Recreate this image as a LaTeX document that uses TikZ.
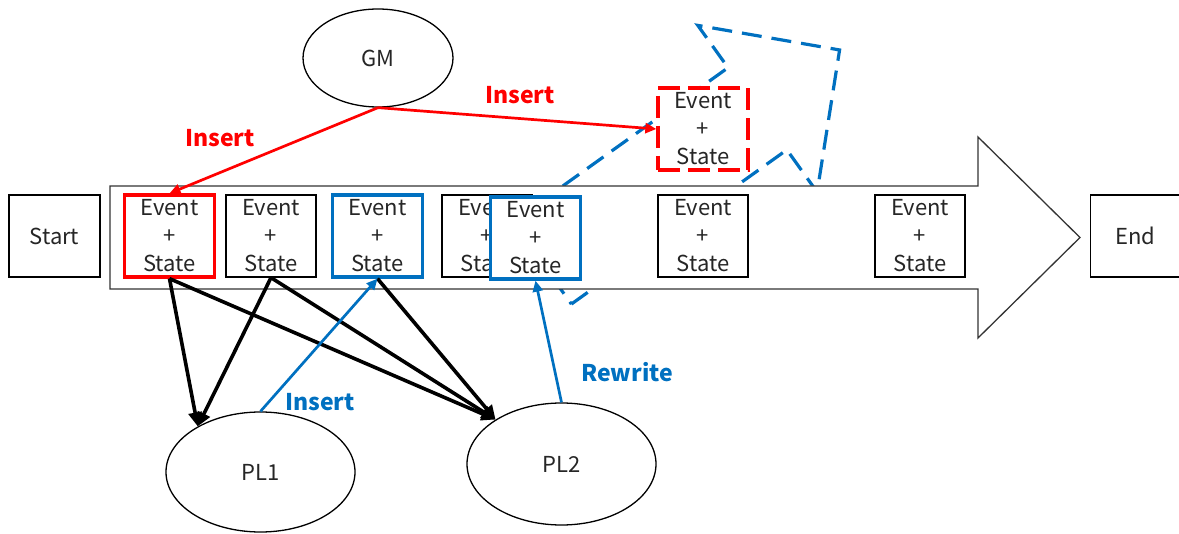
\documentclass[tikz,border=0pt]{standalone}
\usepackage{fontspec}
\setmainfont{Noto Sans CJK JP}
\usepackage{xcolor}
\usetikzlibrary{arrows.meta,shapes.geometric}
\definecolor{ink}{RGB}{38,38,38}
\definecolor{pblue}{RGB}{0,112,192}
\definecolor{pred}{RGB}{255,0,0}
\newcommand{\evst}{Event\\+\\State}

\begin{document}
\begin{tikzpicture}[x=1pt,y=-1pt,font=\fontsize{22}{28}\selectfont,
        main node/.style={ellipse,draw,line width=1.3pt,inner sep=0pt,text=ink},
        box node/.style={rectangle,draw,fill=white,line width=1.3pt,minimum width=90pt,minimum height=82pt,inner sep=0pt,align=center,text=ink},
        red node/.style={box node,draw=pred,line width=3.3pt},
        blue node/.style={box node,draw=pblue,line width=3.3pt},
        tag/.style={font=\bfseries\fontsize{23}{28}\selectfont},
        link/.style={-{Triangle[length=11pt,width=10pt]},line width=2.7pt},
        heavy/.style={-{Triangle[length=14pt,width=13pt]},line width=3.6pt}]
        \useasboundingbox (0,0) rectangle (1179,534);
        % dashed block arrow, half hidden behind the time line
        \begin{scope}[shift={(542,263)},rotate=35.6]
            \draw[pblue,line width=3.2pt,dash pattern=on 20pt off 10pt]
                (0,50.5) -- (265,50.5) -- (265,102.5) -- (366,0)
                -- (265,-102.5) -- (265,-50.5) -- (0,-50.5) -- cycle;
        \end{scope}
        % time line
        \draw[fill=white,draw=black!80,line width=1.3pt] (110,186) -- (978,186) -- (978,137) -- (1080,237.5)
            -- (978,338) -- (978,289) -- (110,289) -- cycle;
        \node[box node,minimum width=91pt] (s) at (54.5,236) {Start};
        \node[box node] (e) at (1135.5,236) {End};
        \node[red node] (1) at (169.5,236) {\evst};
        \node[box node] (2) at (271,236) {\evst};
        \node[blue node] (3) at (377.5,236) {\evst};
        \node[box node] (4) at (487,236) {\evst};
        \node[blue node] (5) at (535.5,238) {\evst};
        \node[box node] (6) at (703,236) {\evst};
        \node[box node] (7) at (920,236) {\evst};
        \node[red node,dash pattern=on 22pt off 8pt] (new) at (703,129) {\evst};
        % players
        \node[main node,minimum width=150pt,minimum height=98pt] (gm) at (378,58) {GM};
        \node[main node,minimum width=189pt,minimum height=120pt] (pl1) at (260.5,472) {PL1};
        \node[main node,minimum width=189pt,minimum height=122pt] (pl2) at (561.5,464) {PL2};
        \path[link,pred]
            (gm.south) edge (1.north)
            (gm.south) edge (new.west);
        \path[heavy]
            (1.south) edge (pl1.144)
            (2.south) edge (pl1.144)
            (1.south) edge (pl2.146)
            (2.south) edge (pl2.146)
            (3.south) edge (pl2.146);
        \path[link,pblue]
            (pl1.north) edge (3.south)
            (pl2.north) edge (5.south);
        \node[tag,text=pred] (t1) at (220,138) {Insert};
        \node[tag,text=pred] (t2) at (520,95) {Insert};
        \node[tag,text=pblue] (t3) at (320,402) {Insert};
        \node[tag,text=pblue] (t4) at (627,372) {Rewrite};
    \end{tikzpicture}
\end{document}
